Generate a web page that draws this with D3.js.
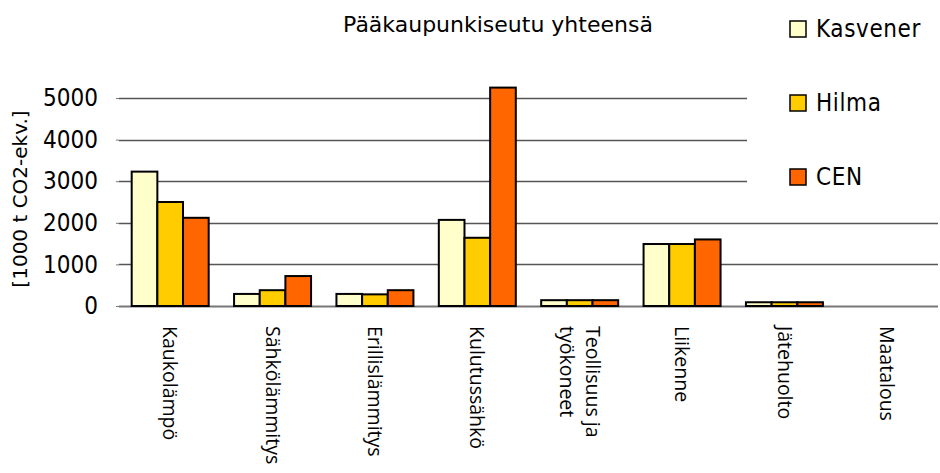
<!DOCTYPE html>
<html>
<head>
<meta charset="utf-8">
<script src="https://cdn.jsdelivr.net/npm/d3@7"></script>
<style>
  body { margin: 0; background: #fff; }
  svg { display: block; }
  text { fill: #000; }
</style>
</head>
<body>
<div id="chart"></div>
<script>
// data
var categories = ["Kaukolämpö", "Sähkölämmitys", "Erillislämmitys", "Kulutussähkö",
                  "Teollisuus ja\ntyökoneet", "Liikenne", "Jätehuolto", "Maatalous"]
var series = ["Kasvener", "Hilma", "CEN"]
var kasvener = [3230, 290, 290, 2070, 140, 1490, 90, 0]
var hilma    = [2500, 380, 280, 1640, 140, 1490, 90, 0]
var cen      = [2120, 720, 380, 5250, 140, 1600, 90, 0]
var colors   = ["#ffffcc", "#ffcc00", "#ff6600"]
var y_ticks  = [0, 1000, 2000, 3000, 4000, 5000]

var W = 940, H = 473
var svg = d3.select("#chart").append("svg")
    .attr("width", W).attr("height", H)

var font = "'DejaVu Sans Condensed', 'DejaVu Sans', sans-serif"
var font_wide = "'DejaVu Sans', sans-serif"

// scales
var x0 = d3.scaleBand().domain(categories).range([119, 938])
var bw = x0.bandwidth()
var x1 = d3.scaleBand().domain(series).range([bw * 0.124, bw * 0.876])
var y = d3.scaleLinear().domain([0, 5000]).range([306, 98])

// gridlines
svg.append("g").selectAll("line")
    .data(y_ticks)
    .join("line")
    .attr("x1", 119).attr("x2", 938)
    .attr("y1", d => Math.round(y(d)) + 0.5).attr("y2", d => Math.round(y(d)) + 0.5)
    .attr("stroke", d => d == 0 ? "#777" : "#555")
    .attr("stroke-width", d => d == 0 ? 2 : 1.4)

// y axis (ticks + labels), no domain line
var yAxis = svg.append("g")
    .attr("transform", "translate(119,0)")
    .call(d3.axisLeft(y).tickValues(y_ticks).tickSize(3).tickPadding(18).tickFormat(d3.format("d")))
yAxis.select(".domain").remove()
yAxis.selectAll(".tick line").attr("stroke", "#777")
yAxis.selectAll(".tick text")
    .style("font-family", font).style("font-size", "24px").attr("fill", "#000")

// legend sits on a white box covering the top gridlines
svg.append("rect").attr("x", 747).attr("y", 0).attr("width", 193).attr("height", 205).attr("fill", "#fff")

// bars
var table = categories.map(function (c, i) {
    return { cat: c, vals: [kasvener[i], hilma[i], cen[i]] }
})
var groups = svg.append("g").selectAll("g")
    .data(table)
    .join("g")
    .attr("transform", d => `translate(${x0(d.cat)},0)`)
groups.selectAll("rect")
    .data(d => d.vals.map((v, j) => ({ s: series[j], v: v, c: colors[j] })))
    .join("rect")
    .filter(d => d.v > 0)
    .attr("x", d => x1(d.s))
    .attr("y", d => y(d.v))
    .attr("width", x1.bandwidth())
    .attr("height", d => y(0) - y(d.v))
    .attr("fill", d => d.c)
    .attr("stroke", "#000")
    .attr("stroke-width", 2)

// category labels, rotated
var catLabels = svg.append("g").selectAll("text")
    .data(categories)
    .join("text")
    .attr("transform", d => `translate(${x0(d) + bw / 2},326) rotate(90)`)
    .style("font-family", "'Open Sans', 'DejaVu Sans', sans-serif")
    .style("font-size", "19.5px")
catLabels.each(function (d) {
    var lines = d.split("\n")
    var t = d3.select(this)
    var off = (lines.length - 1) * 0.65
    lines.forEach(function (l, k) {
        t.append("tspan").attr("x", 0)
            .attr("dy", k == 0 ? (0.35 - off) + "em" : "1.3em")
            .text(l)
    })
})

// title
svg.append("text")
    .attr("x", 498).attr("y", 32)
    .attr("text-anchor", "middle")
    .style("font-family", font_wide).style("font-size", "22px")
    .text("Pääkaupunkiseutu yhteensä")

// y axis title
svg.append("text")
    .attr("transform", "translate(27,199) rotate(-90)")
    .attr("text-anchor", "middle")
    .style("font-family", font_wide).style("font-size", "20px")
    .text("[1000 t CO2-ekv.]")

// legend
var legend = svg.append("g").selectAll("g")
    .data(series)
    .join("g")
    .attr("transform", (d, i) => `translate(790,${21 + i * 74})`)
legend.append("rect")
    .attr("width", 16).attr("height", 16)
    .attr("fill", (d, i) => colors[i])
    .attr("stroke", "#000").attr("stroke-width", 1.5)
legend.append("text")
    .attr("x", 26).attr("y", 16)
    .style("font-family", font).style("font-size", "24px")
    .style("letter-spacing", "0.6px")
    .text(d => d)
</script>
</body>
</html>
